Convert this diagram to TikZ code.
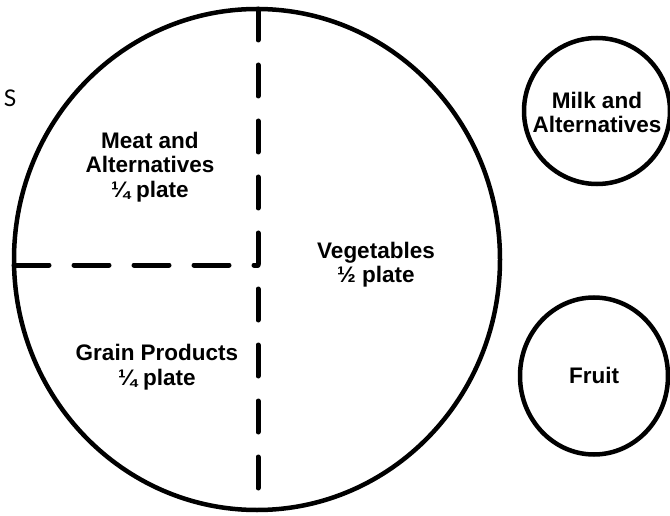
\documentclass[tikz,border=0pt]{standalone}
\usepackage{fontspec}
\setmainfont{Liberation Sans}
\newfontfamily\thinfont{Lato}
\begin{document}
\begin{tikzpicture}[x=1pt,y=-1pt,
  outline/.style={draw=black,line width=4.5pt},
  divider/.style={draw=black,line width=5pt,line cap=round},
  label/.style={font=\fontsize{22.5}{24.5}\selectfont\bfseries,align=center,anchor=base,inner sep=0pt}]
\useasboundingbox (0,0) rectangle (670,516);
% plate
\coordinate (c) at (257,259.5);
\draw[outline] (c) ellipse [x radius=243, y radius=250.5];
\coordinate (vtop) at (258,9);
\coordinate (vbot) at (258,510);
\coordinate (hleft) at (14,265);
\coordinate (hright) at (258,265);
\draw[divider,dash pattern=on 31pt off 25pt] (vtop) -- (vbot);
\draw[divider,dash pattern=on 35pt off 25pt] (hleft) -- (hright);
% side circles
\draw[outline] (597,111) circle [radius=73];
\draw[outline] (594,376) ellipse [x radius=74, y radius=78.5];
% labels (base = baseline of the last line)
\node[label] (meat) at (150,197) {Meat and\\Alternatives\\¼ plate};
\node[label] (veg) at (376,283) {Vegetables\\½ plate};
\node[label] (grain) at (157,385) {Grain Products\\¼ plate};
\node[label] (milk) at (597,133) {Milk and\\Alternatives};
\node[label] (fruit) at (594,383) {Fruit};
\node[font=\thinfont\fontsize{23}{23}\selectfont,anchor=base,inner sep=0pt] (s) at (10,107) {S};
\end{tikzpicture}
\end{document}
